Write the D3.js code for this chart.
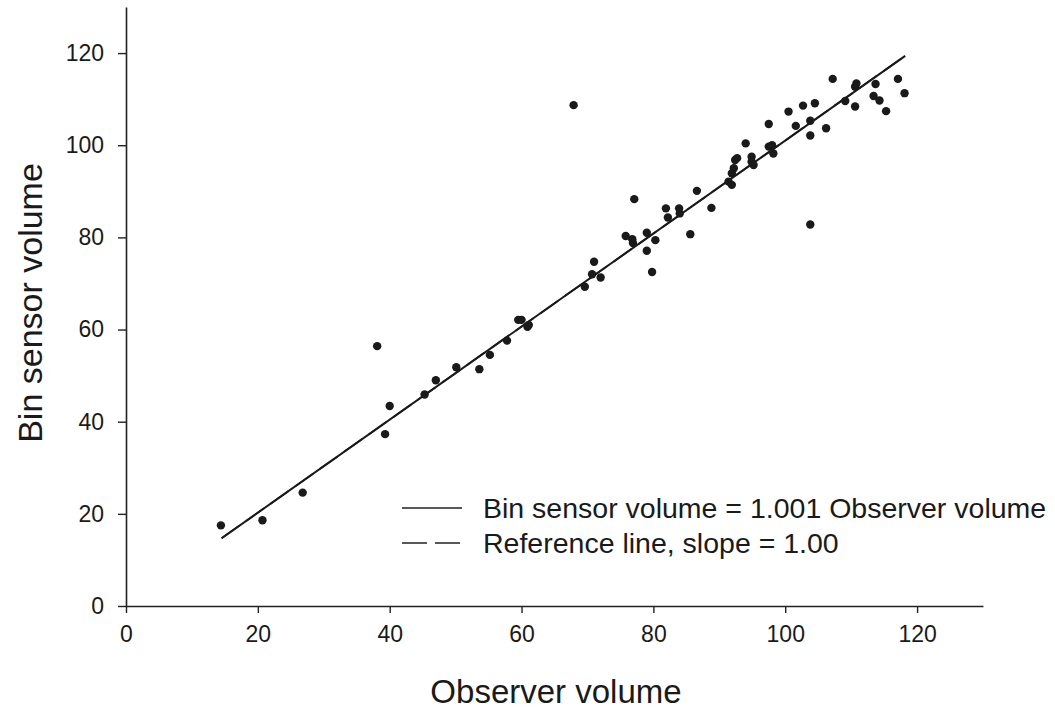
<!DOCTYPE html>
<html>
<head>
<meta charset="utf-8">
<script src="https://cdn.jsdelivr.net/npm/d3@7"></script>
<style>
  body { margin: 0; background: #fff; }
  text { font-family: Arial, "Liberation Sans", sans-serif; fill: #1a1a1a; }
</style>
</head>
<body>
<div class="chart"></div>
<script>
'use strict'
// observer volume (x) and bin sensor volume (y)
const observer = [14.4, 20.7, 26.8, 38.1, 39.3, 40.0, 45.3, 47.0, 50.1, 53.6, 55.2, 57.8, 59.5, 60.0, 60.9, 61.1,
  67.9, 69.6, 70.7, 71.0, 72.0, 75.8, 76.8, 76.9, 77.1, 79.0, 79.0, 79.8, 80.3, 81.9, 82.2, 83.9, 84.0, 85.6, 86.6,
  88.8, 91.4, 91.9, 91.9, 92.2, 92.4, 92.7, 94.0, 94.9, 94.9, 95.2, 97.5, 97.5, 98.0, 98.2, 100.5, 101.6, 102.7,
  103.8, 103.8, 103.8, 104.5, 106.2, 107.2, 109.1, 110.6, 110.6, 110.8, 113.4, 113.7, 114.3, 115.3, 117.1, 118.1]
const binSensor = [17.5, 18.6, 24.6, 56.4, 37.3, 43.4, 45.9, 49.0, 51.8, 51.4, 54.5, 57.6, 62.1, 62.1, 60.6, 61.0,
  108.7, 69.3, 72.0, 74.7, 71.3, 80.3, 79.6, 78.8, 88.3, 81.0, 77.1, 72.5, 79.4, 86.3, 84.3, 86.3, 85.2, 80.7, 90.1,
  86.4, 92.1, 91.4, 93.9, 95.0, 96.8, 97.2, 100.4, 97.5, 96.4, 95.7, 104.6, 99.7, 100.0, 98.2, 107.3, 104.2, 108.6,
  105.3, 102.1, 82.8, 109.1, 103.7, 114.4, 109.6, 108.4, 112.7, 113.4, 110.7, 113.3, 109.7, 107.4, 114.4, 111.3]

// fitted line and reference line end points
const fitX = [14.5, 118.2]
const fitY = [14.7, 119.4]
const refX = [14.5, 118.2]
const refY = [14.7, 119.4]

const xTicks = [0, 20, 40, 60, 80, 100, 120]
const yTicks = [0, 20, 40, 60, 80, 100, 120]
const legendLabels = ['Bin sensor volume = 1.001 Observer volume', 'Reference line, slope = 1.00']

const width = 1055
const height = 711

const svg = d3.select('.chart').append('svg')
  .attr('width', width)
  .attr('height', height)

const x = d3.scaleLinear().domain([0, 130]).range([126, 983])
const y = d3.scaleLinear().domain([0, 130]).range([606, 7])

const xAxis = svg.append('g')
  .attr('transform', 'translate(0,' + y(0) + ')')
  .call(d3.axisBottom(x).tickValues(xTicks).tickSize(7).tickSizeOuter(0).tickPadding(9))
const yAxis = svg.append('g')
  .attr('transform', 'translate(' + x(0) + ',0)')
  .call(d3.axisLeft(y).tickValues(yTicks).tickSize(8).tickSizeOuter(0).tickPadding(14))

;[xAxis, yAxis].forEach(function (g) {
  g.select('.domain').attr('stroke', '#222').attr('stroke-width', 1.6)
  g.selectAll('.tick line').attr('stroke', '#222').attr('stroke-width', 1.4)
  g.selectAll('.tick text').attr('font-size', 23).attr('fill', '#1a1a1a')
    .style('font-family', 'Arial, "Liberation Sans", sans-serif')
})
xAxis.selectAll('.tick text').attr('dy', '0.85em')

// reference line (under the fit)
const line = d3.line().x(function (d) { return x(d[0]) }).y(function (d) { return y(d[1]) })
svg.append('path')
  .datum(d3.zip(refX, refY))
  .attr('d', line)
  .attr('fill', 'none')
  .attr('stroke', '#222')
  .attr('stroke-width', 1.8)
  .attr('stroke-dasharray', '22,8')

svg.append('path')
  .datum(d3.zip(fitX, fitY))
  .attr('d', line)
  .attr('fill', 'none')
  .attr('stroke', '#1a1a1a')
  .attr('stroke-width', 2)

svg.append('g').selectAll('circle')
  .data(d3.zip(observer, binSensor))
  .enter().append('circle')
  .attr('cx', function (d) { return x(d[0]) })
  .attr('cy', function (d) { return y(d[1]) })
  .attr('r', 4.2)
  .attr('fill', '#1a1a1a')

// legend
const legend = svg.append('g').attr('transform', 'translate(402,508)')
legendLabels.forEach(function (label, i) {
  const row = legend.append('g').attr('transform', 'translate(0,' + (i * 35) + ')')
  row.append('line')
    .attr('x1', 0).attr('x2', 60)
    .attr('stroke', '#222').attr('stroke-width', 1.6)
    .attr('stroke-dasharray', i === 1 ? '25,8' : null)
  row.append('text')
    .attr('x', 81)
    .attr('dy', '0.35em')
    .attr('font-size', 28.5)
    .text(label)
})

// axis titles
svg.append('text')
  .attr('x', 556)
  .attr('y', 703)
  .attr('text-anchor', 'middle')
  .attr('font-size', 33)
  .text('Observer volume')

svg.append('text')
  .attr('transform', 'translate(42,303) rotate(-90)')
  .attr('text-anchor', 'middle')
  .attr('font-size', 34)
  .text('Bin sensor volume')
</script>
</body>
</html>
